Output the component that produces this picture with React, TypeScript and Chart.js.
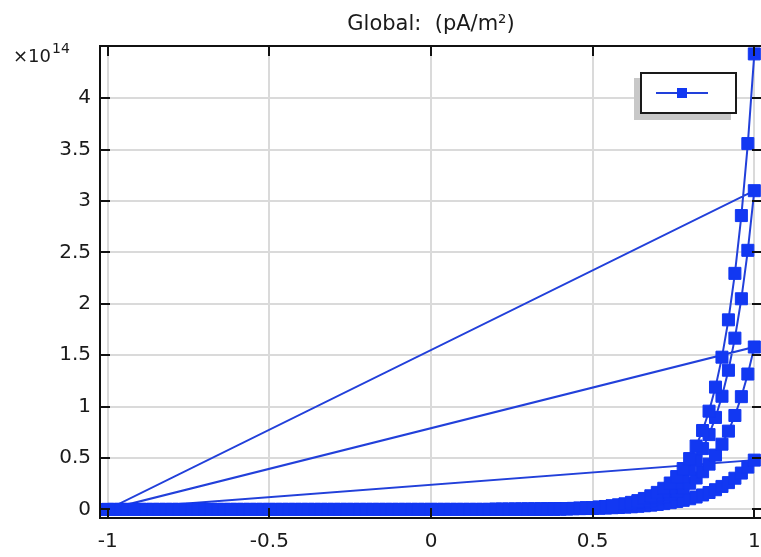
import React, { useEffect, useRef } from "react";
import { Chart, registerables } from "chart.js";

Chart.register(...registerables);

// x positions of each sweep (same for all four sweeps)
const X_VALUES = [
  -1, -0.98, -0.96, -0.94, -0.92, -0.9, -0.88, -0.86, -0.84, -0.82,
  -0.8, -0.78, -0.76, -0.74, -0.72, -0.7, -0.68, -0.66, -0.64, -0.62,
  -0.6, -0.58, -0.56, -0.54, -0.52, -0.5, -0.48, -0.46, -0.44, -0.42,
  -0.4, -0.38, -0.36, -0.34, -0.32, -0.3, -0.28, -0.26, -0.24, -0.22,
  -0.2, -0.18, -0.16, -0.14, -0.12, -0.1, -0.08, -0.06, -0.04, -0.02,
  0, 0.02, 0.04, 0.06, 0.08, 0.1, 0.12, 0.14, 0.16, 0.18,
  0.2, 0.22, 0.24, 0.26, 0.28, 0.3, 0.32, 0.34, 0.36, 0.38,
  0.4, 0.42, 0.44, 0.46, 0.48, 0.5, 0.52, 0.54, 0.56, 0.58,
  0.6, 0.62, 0.64, 0.66, 0.68, 0.7, 0.72, 0.74, 0.76, 0.78,
  0.8, 0.82, 0.84, 0.86, 0.88, 0.9, 0.92, 0.94, 0.96, 0.98,
  1,
];

// values in units of 1e14 pA/m^2
const SWEEP_1 = [
  0, 0, 0, 0, 0, 0, 0, 0, 0, 0,
  0, 0, 0, 0, 0, 0, 0, 0, 0, 0,
  0, 0, 0, 0, 0, 0, 0, 0, 0, 0,
  0, 0, 0, 0, 0, 0, 0, 0, 0, 0,
  0, 0, 0, 0, 0, 0, 0, 0, 0, 0,
  0, 0, 0, 0, 0, 0, 0, 0, 0, 0,
  0.001, 0.001, 0.001, 0.002, 0.002, 0.002, 0.003, 0.003, 0.004, 0.004,
  0.005, 0.006, 0.007, 0.008, 0.009, 0.010, 0.012, 0.014, 0.017, 0.019,
  0.023, 0.026, 0.031, 0.036, 0.042, 0.049, 0.057, 0.066, 0.077, 0.089,
  0.104, 0.121, 0.141, 0.165, 0.192, 0.224, 0.261, 0.304, 0.354, 0.412,
  0.48,
];

const SWEEP_2 = [
  0, 0, 0, 0, 0, 0, 0, 0, 0, 0,
  0, 0, 0, 0, 0, 0, 0, 0, 0, 0,
  0, 0, 0, 0, 0, 0, 0, 0, 0, 0,
  0, 0, 0, 0, 0, 0, 0, 0, 0, 0,
  0, 0, 0, 0, 0, 0, 0, 0, 0, 0,
  0, 0, 0, 0, 0, 0, 0, 0, 0, 0,
  0.001, 0.001, 0.002, 0.002, 0.002, 0.003, 0.003, 0.004, 0.005, 0.005,
  0.007, 0.008, 0.010, 0.011, 0.014, 0.017, 0.020, 0.024, 0.029, 0.034,
  0.041, 0.049, 0.059, 0.071, 0.085, 0.103, 0.123, 0.148, 0.177, 0.213,
  0.255, 0.306, 0.367, 0.441, 0.529, 0.635, 0.762, 0.914, 1.097, 1.317,
  1.58,
];

const SWEEP_3 = [
  0, 0, 0, 0, 0, 0, 0, 0, 0, 0,
  0, 0, 0, 0, 0, 0, 0, 0, 0, 0,
  0, 0, 0, 0, 0, 0, 0, 0, 0, 0,
  0, 0, 0, 0, 0, 0, 0, 0, 0, 0,
  0, 0, 0, 0, 0, 0, 0, 0, 0, 0,
  0, 0, 0, 0, 0, 0, 0, 0, 0, 0,
  0.001, 0.001, 0.001, 0.001, 0.002, 0.002, 0.003, 0.003, 0.004, 0.005,
  0.006, 0.008, 0.009, 0.012, 0.014, 0.018, 0.022, 0.027, 0.033, 0.040,
  0.049, 0.061, 0.075, 0.092, 0.113, 0.139, 0.171, 0.210, 0.259, 0.318,
  0.391, 0.481, 0.592, 0.728, 0.895, 1.101, 1.354, 1.666, 2.049, 2.520,
  3.10,
];

const SWEEP_4 = [
  0, 0, 0, 0, 0, 0, 0, 0, 0, 0,
  0, 0, 0, 0, 0, 0, 0, 0, 0, 0,
  0, 0, 0, 0, 0, 0, 0, 0, 0, 0,
  0, 0, 0, 0, 0, 0, 0, 0, 0, 0,
  0, 0, 0, 0, 0, 0, 0, 0, 0, 0,
  0, 0, 0, 0, 0, 0, 0, 0, 0, 0,
  0.001, 0.001, 0.001, 0.001, 0.002, 0.002, 0.003, 0.003, 0.004, 0.005,
  0.006, 0.008, 0.010, 0.012, 0.015, 0.019, 0.023, 0.029, 0.036, 0.045,
  0.055, 0.069, 0.086, 0.107, 0.133, 0.166, 0.206, 0.257, 0.320, 0.398,
  0.495, 0.617, 0.768, 0.956, 1.190, 1.481, 1.844, 2.296, 2.858, 3.558,
  4.43,
];

const SWEEPS = [SWEEP_1, SWEEP_2, SWEEP_3, SWEEP_4];

const X_MIN = -1.0238;
const X_MAX = 1.0238;
const Y_MIN = -0.083;
const Y_MAX = 4.507;
const Y_TOP_TICK = 4;

const TITLE = "Global:  (pA/m²)";
const MULT_BASE = "×10";
const MULT_EXP = "14";

const FONT = '"DejaVu Sans", "Liberation Sans", sans-serif';
const MARK = "#1238f2";
const LINE = "#2240da";

const overlayPlugin = {
  id: "overlay",
  afterDraw(chart: any) {
    const { ctx, chartArea: a, scales } = chart;
    const xs = scales.x;
    const ys = scales.y;
    ctx.save();

    // frame
    ctx.strokeStyle = "#111";
    ctx.lineWidth = 2;
    ctx.strokeRect(a.left, a.top, a.right - a.left, a.bottom - a.top);

    // inward tick marks
    ctx.beginPath();
    xs.ticks.forEach((t: any) => {
      const px = Math.round(xs.getPixelForValue(t.value));
      ctx.moveTo(px, a.bottom);
      ctx.lineTo(px, a.bottom - 10);
      ctx.moveTo(px, a.top);
      ctx.lineTo(px, a.top + 10);
    });
    ys.ticks.forEach((t: any) => {
      const py = Math.round(ys.getPixelForValue(t.value));
      ctx.moveTo(a.left, py);
      ctx.lineTo(a.left + 10, py);
      ctx.moveTo(a.right, py);
      ctx.lineTo(a.right - 10, py);
    });
    ctx.stroke();

    // title
    ctx.fillStyle = "#1a1a1a";
    ctx.font = `21px ${FONT}`;
    ctx.textAlign = "center";
    ctx.textBaseline = "alphabetic";
    ctx.fillText(TITLE, (a.left + a.right) / 2, 30);

    // multiplier
    ctx.textAlign = "left";
    ctx.font = `18px ${FONT}`;
    ctx.fillText(MULT_BASE, 13, 62);
    const w = ctx.measureText(MULT_BASE).width;
    ctx.font = `14px ${FONT}`;
    ctx.fillText(MULT_EXP, 13 + w + 1, 53);

    // legend box
    ctx.fillStyle = "#c8c8c8";
    ctx.fillRect(634, 78, 97, 42);
    ctx.fillStyle = "#ffffff";
    ctx.fillRect(640, 72, 97, 42);
    ctx.strokeStyle = "#1a1a1a";
    ctx.lineWidth = 2;
    ctx.strokeRect(641, 73, 95, 40);
    ctx.strokeStyle = LINE;
    ctx.lineWidth = 2;
    ctx.beginPath();
    ctx.moveTo(656, 93);
    ctx.lineTo(708, 93);
    ctx.stroke();
    ctx.fillStyle = MARK;
    ctx.fillRect(677, 88, 10, 10);

    ctx.restore();
  },
};

export default function App() {
  const canvasRef = useRef<HTMLCanvasElement | null>(null);

  useEffect(() => {
    const canvas = canvasRef.current;
    if (!canvas) return;
    const points: { x: number; y: number }[] = [];
    SWEEPS.forEach((sweep) => {
      sweep.forEach((v, i) => points.push({ x: X_VALUES[i], y: v }));
    });

    const tickFont = { family: FONT, size: 20 };

    const chart = new Chart(canvas, {
      type: "scatter",
      data: {
        datasets: [
          {
            data: points,
            showLine: true,
            borderColor: LINE,
            borderWidth: 2,
            pointStyle: "rect",
            pointRadius: 8.5,
            pointBackgroundColor: MARK,
            pointBorderColor: MARK,
            pointBorderWidth: 1,
            tension: 0,
          },
        ],
      },
      options: {
        responsive: false,
        animation: false,
        events: [],
        layout: { padding: { top: 46, right: 13, left: 0, bottom: 0 } },
        plugins: {
          legend: { display: false },
          title: { display: false },
          tooltip: { enabled: false },
        },
        scales: {
          x: {
            type: "linear",
            min: X_MIN,
            max: X_MAX,
            afterFit: (s: any) => {
              s.height = 39;
            },
            border: { display: false },
            grid: { color: "#dadada", lineWidth: 2, drawTicks: false },
            ticks: {
              stepSize: 0.5,
              includeBounds: false,
              padding: 12,
              color: "#1a1a1a",
              font: tickFont,
              maxRotation: 0,
              autoSkip: false,
              callback: (v: any) => String(v),
            },
          },
          y: {
            type: "linear",
            min: Y_MIN,
            max: Y_MAX,
            afterFit: (s: any) => {
              s.width = 100;
            },
            afterBuildTicks: (s: any) => {
              s.ticks = s.ticks.filter((t: any) => t.value <= Y_TOP_TICK);
            },
            border: { display: false },
            grid: { color: "#dadada", lineWidth: 2, drawTicks: false },
            ticks: {
              stepSize: 0.5,
              includeBounds: false,
              padding: 9,
              color: "#1a1a1a",
              font: tickFont,
              autoSkip: false,
              callback: (v: any) => String(v),
            },
          },
        },
      },
      plugins: [overlayPlugin],
    } as any);

    return () => chart.destroy();
  }, []);

  return (
    <div
      style={{
        position: "absolute",
        left: 0,
        top: 0,
        width: 761,
        height: 557,
        overflow: "hidden",
        background: "#fff",
      }}
    >
      <canvas
        ref={canvasRef}
        width={775}
        height={557}
        style={{ display: "block", width: 775, height: 557 }}
      />
    </div>
  );
}
